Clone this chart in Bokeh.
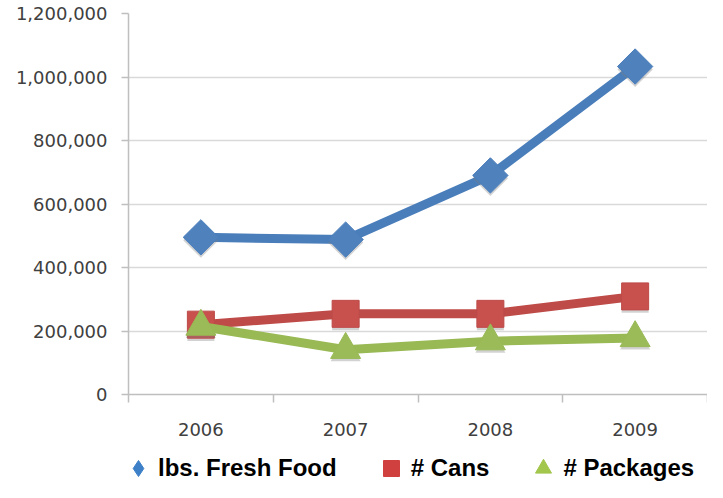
import math
from bokeh.plotting import figure
from bokeh.layouts import column
from bokeh.models import (Range1d, FixedTicker, NumeralTickFormatter, Legend, LegendItem,
                          ColumnDataSource)
from bokeh.transform import dodge
from bokeh.embed import file_html
from bokeh.resources import INLINE

years = ["2006", "2007", "2008", "2009"]
fresh_food = [495000, 488000, 690000, 1033000]
cans = [220000, 254000, 254000, 309000]
packages = [214000, 141000, 168000, 178000]
y_ticks = [0, 200000, 400000, 600000, 800000, 1000000, 1200000]

series_names = ["lbs. Fresh Food", "# Cans", "# Packages"]
line_colors = ["#4A7EBB", "#BE4B48", "#98B954"]
fill_colors = ["#4F81BD", "#C8504D", "#9BBB59"]
legend_colors = ["#3D80C8", "#D0403F", "#A3C64C"]

xs = [i + 0.5 for i in range(len(years))]

p = figure(width=707, height=448, output_backend="svg", toolbar_location=None,
           x_range=Range1d(0, len(years)), y_range=Range1d(0, y_ticks[-1]),
           min_border_left=128, min_border_right=0, min_border_top=13,
           min_border_bottom=54)
p.outline_line_color = None
p.background_fill_color = "white"
p.border_fill_color = "white"

# y axis
ya = p.yaxis[0]
ya.ticker = FixedTicker(ticks=y_ticks)
ya.formatter = NumeralTickFormatter(format="0,0")
ya.axis_line_color = "#BFBFBF"
ya.axis_line_width = 1.5
ya.major_tick_line_color = "#BFBFBF"
ya.major_tick_line_width = 1.5
ya.major_tick_out = 7
ya.major_tick_in = 0
ya.minor_tick_line_color = None
ya.major_label_text_font = "DejaVu Sans"
ya.major_label_text_font_size = "18px"
ya.major_label_text_color = "#404040"
ya.major_label_standoff = 14

# x axis
xa = p.xaxis[0]
xa.ticker = FixedTicker(ticks=xs, minor_ticks=list(range(len(years) + 1)))
xa.major_label_overrides = {x: y for x, y in zip(xs, years)}
xa.axis_line_color = "#BFBFBF"
xa.axis_line_width = 1.5
xa.major_tick_line_color = None
xa.major_tick_out = 8
xa.major_tick_in = 0
xa.minor_tick_line_color = "#BFBFBF"
xa.minor_tick_line_width = 1.5
xa.minor_tick_out = 8
xa.minor_tick_in = 0
xa.major_label_text_font = "DejaVu Sans"
xa.major_label_text_font_size = "18px"
xa.major_label_text_color = "#404040"
xa.major_label_standoff = 20

p.xgrid.grid_line_color = None
p.ygrid.ticker = FixedTicker(ticks=y_ticks)
p.ygrid.grid_line_color = "#D9D9D9"
p.ygrid.grid_line_width = 1.5

markers = [("square", math.pi / 4, 25), ("square", 0, 27), ("triangle", 0, 30)]
data = [fresh_food, cans, packages]
for vals, lc, fc, (mk, ang, sz) in zip(data, line_colors, fill_colors, markers):
    src = ColumnDataSource(dict(x=xs, y=vals))
    p.line("x", "y", source=src, line_color=lc, line_width=9,
           line_join="round", line_cap="round")
    # soft drop shadow under each marker
    p.scatter("x", dodge("y", -9000, range=p.y_range), source=src, marker=mk, angle=ang,
              size=sz, fill_color="#7F7F7F", fill_alpha=0.35, line_color=None)
    p.scatter("x", "y", source=src, marker=mk, angle=ang, size=sz, fill_color=fc,
              line_color=lc, line_width=1)

# legend strip below the chart (its own frame; series points fall outside its view)
lf = figure(width=707, height=34, output_backend="svg", toolbar_location=None,
            x_range=Range1d(0, len(years)), y_range=Range1d(-1, 0),
            x_axis_location=None, y_axis_location=None,
            min_border_left=128, min_border_right=0, min_border_top=0, min_border_bottom=0)
lf.outline_line_color = None
lf.xgrid.grid_line_color = None
lf.ygrid.grid_line_color = None
lf.background_fill_color = "white"
lf.border_fill_color = "white"

legend_markers = ["diamond", "square", "triangle"]
items = []
for name, vals, mk, c in zip(series_names, data, legend_markers, legend_colors):
    r = lf.scatter(x=xs, y=vals, marker=mk, size=16, fill_color=c, line_color=c)
    items.append(LegendItem(label=name, renderers=[r]))

legend = Legend(items=items, orientation="horizontal", location=(-10, -6),
                glyph_width=40, glyph_height=40, label_standoff=0, spacing=34,
                padding=0, margin=0, border_line_color=None,
                background_fill_alpha=0,
                label_text_font="Liberation Sans",
                label_text_font_style="bold",
                label_text_font_size="24px",
                label_text_color="#000000")
lf.add_layout(legend, "center")

layout = column(p, lf, spacing=0)
open("out.html", "w").write(file_html(layout, INLINE))
